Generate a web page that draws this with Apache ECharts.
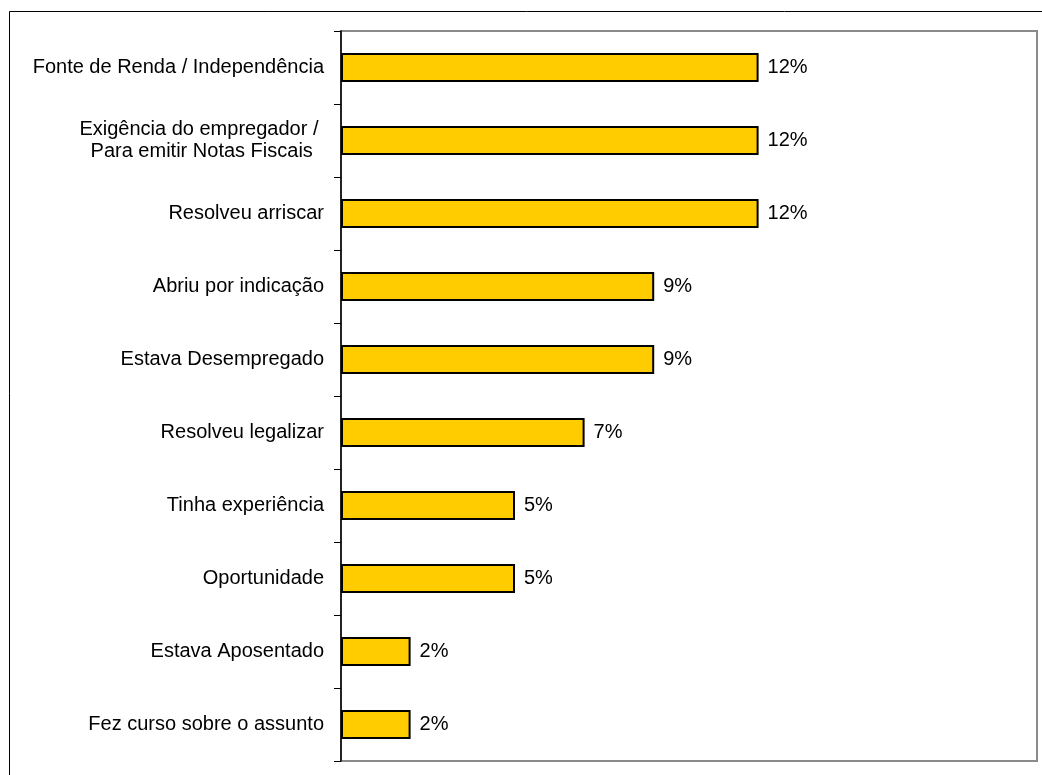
<!DOCTYPE html>
<html>
<head>
<meta charset="utf-8">
<script src="https://cdn.jsdelivr.net/npm/echarts@6/dist/echarts.min.js"></script>
<style>
  html, body { margin: 0; padding: 0; background: #fff; }
  #chart { width: 1042px; height: 775px; }
</style>
</head>
<body>
<div id="chart"></div>
<script>
// Motivos para abrir a empresa (%)
const categories = [
  'Fonte de Renda / Independência',
  'Exigência do empregador / \nPara emitir Notas Fiscais',
  'Resolveu arriscar',
  'Abriu por indicação',
  'Estava Desempregado',
  'Resolveu legalizar',
  'Tinha experiência',
  'Oportunidade',
  'Estava Aposentado',
  'Fez curso sobre o assunto'
];
const values = [12, 12, 12, 9, 9, 7, 5, 5, 2, 2];
const axisMax = 20;

const FONT = "'Liberation Sans', Arial, sans-serif";

const chart = echarts.init(document.getElementById('chart'), null, { renderer: 'canvas' });

chart.setOption({
  animation: false,
  backgroundColor: '#fff',
  graphic: [{
    type: 'rect',
    shape: { x: 9.5, y: 11.5, width: 1200, height: 1000 },
    style: { fill: 'none', stroke: '#000', lineWidth: 1 },
    z: 100
  }],
  grid: {
    left: 341, top: 31, right: 5, bottom: 14,
    show: true,
    borderColor: '#8a8a8a',
    borderWidth: 2,
    backgroundColor: '#fff'
  },
  xAxis: {
    type: 'value',
    min: 0,
    max: axisMax,
    show: false,
    splitLine: { show: false }
  },
  yAxis: {
    type: 'category',
    data: categories,
    inverse: true,
    axisLine: { show: true, lineStyle: { color: '#000', width: 1.5 } },
    axisTick: { show: true, inside: false, length: 7, lineStyle: { color: '#000', width: 1 } },
    axisLabel: {
      margin: 17,
      color: '#000',
      fontFamily: FONT,
      fontSize: 20,
      lineHeight: 22,
      formatter: function (v) {
        if (v.indexOf('\n') < 0) return v;
        return v.split('\n').map(function (l) { return '{c|' + l + '}'; }).join('\n');
      },
      rich: {
        c: { align: 'center', fontFamily: FONT, fontSize: 20, lineHeight: 22, color: '#000' }
      }
    }
  },
  series: [{
    type: 'bar',
    data: values,
    barWidth: 29,
    itemStyle: { color: '#FFCC00', borderColor: '#000', borderWidth: 2 },
    label: {
      show: true,
      position: 'right',
      distance: 9,
      color: '#000',
      fontFamily: FONT,
      fontSize: 20,
      formatter: function (p) { return p.value + '%'; }
    }
  }]
});
</script>
</body>
</html>
